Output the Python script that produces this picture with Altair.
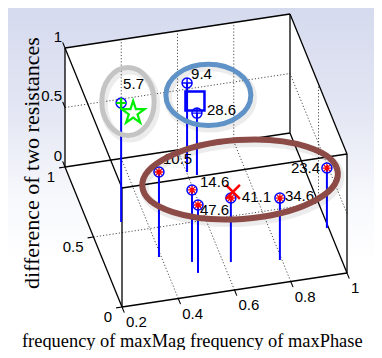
import math
import altair as alt
import pandas as pd

# ---------------- data ----------------
point_labels = ["5.7", "9.4", "28.6", "10.5", "14.6", "47.6", "41.1", "34.6", "23.4"]
freq_maxmag = [0.313, 0.602, 0.631, 0.392, 0.496, 0.501, 0.626, 0.793, 0.994]
freq_maxphase = [0.573, 0.842, 0.812, 0.299, 0.232, 0.152, 0.192, 0.156, 0.323]
resist_diff = [1.0, 0.748, 0.52, 0.714, 0.605, 0.571, 0.538, 0.52, 0.504]
cluster = [1, 2, 2, 3, 3, 3, 3, 3, 3]

# cluster centres (star, square, cross)
centre_mag = [0.356, 0.623, 0.635]
centre_phase = [0.574, 0.807, 0.2007]
centre_diff = [0.9, 0.63, 0.575]

# annotation ellipses around the clusters (centres in data units)
ring_mag = [0.338, 0.665, 0.672]
ring_phase = [0.576, 0.779, 0.2575]
ring_diff = [1.0, 0.7, 0.6]

x_ticks = [0.2, 0.4, 0.6, 0.8, 1.0]
x_tick_text = ["0.2", "0.4", "0.6", "0.8", "1"]
y_ticks = [0.0, 0.5, 1.0]
y_tick_text = ["0", "0.5", "1"]
z_ticks = [0.0, 0.5, 1.0]
z_tick_text = ["0", "0.5", "1"]
x_grid = [0.4, 0.6, 0.8]
y_grid = [0.5]
z_grid = [0.5]

x_title = "frequency of maxMag frequency of maxPhase"
z_title = "difference of two resistances"

# ---------------- layout / projection ----------------
W, H = 366, 342
ORIGIN = (122.0, 307.0)
X_VEC = (281.25, -42.5)
Y_VEC = (-57.0, -140.0)
Z_VEC = (0.0, -119.0)
X0, X1 = 0.2, 1.0


def proj(x, y, z):
    return (ORIGIN[0] + X_VEC[0] * (x - X0) + Y_VEC[0] * y + Z_VEC[0] * z,
            ORIGIN[1] + X_VEC[1] * (x - X0) + Y_VEC[1] * y + Z_VEC[1] * z)


def seg(p, q):
    a, b = proj(*p), proj(*q)
    return {"x": a[0], "y": a[1], "x2": b[0], "y2": b[1]}


xs = alt.Scale(domain=[8, 8 + W], nice=False, zero=False)
ys = alt.Scale(domain=[8, 8 + H], reverse=True, nice=False, zero=False)
X = alt.X("x:Q", scale=xs, axis=None)
Y = alt.Y("y:Q", scale=ys, axis=None)

# background gradient
bg = alt.Chart(pd.DataFrame({"a": [0]})).mark_rect(
    color=alt.LinearGradient(
        gradient="linear",
        stops=[alt.GradientStop(offset=0, color="#d5daee"),
               alt.GradientStop(offset=0.3, color="#e3e6f3"),
               alt.GradientStop(offset=0.55, color="#f7f8fc"),
               alt.GradientStop(offset=0.75, color="#ffffff"),
               alt.GradientStop(offset=1, color="#ffffff")],
        x1=0, x2=0, y1=0, y2=1)
).encode(x=alt.value(0), x2=alt.value(W), y=alt.value(0), y2=alt.value(H))

# white hull of the box
corners = [proj(a, b, c) for a in (X0, X1) for b in (0, 1) for c in (0, 1)]


def hull(points):
    pts = sorted(set(points))
    def cross(o, a, b):
        return (a[0]-o[0])*(b[1]-o[1]) - (a[1]-o[1])*(b[0]-o[0])
    lower, upper = [], []
    for p in pts:
        while len(lower) >= 2 and cross(lower[-2], lower[-1], p) <= 0:
            lower.pop()
        lower.append(p)
    for p in reversed(pts):
        while len(upper) >= 2 and cross(upper[-2], upper[-1], p) <= 0:
            upper.pop()
        upper.append(p)
    return lower[:-1] + upper[:-1]


poly = hull(corners)
rows = []
for vx in sorted(set(round(p[0], 3) for p in poly)):
    yv = []
    n = len(poly)
    for i in range(n):
        p, q = poly[i], poly[(i + 1) % n]
        lo, hi = min(p[0], q[0]), max(p[0], q[0])
        if lo - 1e-6 <= vx <= hi + 1e-6:
            if abs(q[0] - p[0]) < 1e-9:
                yv += [p[1], q[1]]
            else:
                t = (vx - p[0]) / (q[0] - p[0])
                yv.append(p[1] + t * (q[1] - p[1]))
    rows.append({"x": vx, "top": min(yv), "bot": max(yv)})
hull_chart = alt.Chart(pd.DataFrame(rows)).mark_area(
    color="white", orient="vertical", interpolate="linear"
).encode(x=X, y=alt.Y("top:Q", scale=ys, axis=None), y2="bot:Q")

# grid lines
grid_rows = []
for g in x_grid:
    grid_rows.append(seg((g, 0, 0), (g, 1, 0)))
    grid_rows.append(seg((g, 1, 0), (g, 1, 1)))
for g in y_grid:
    grid_rows.append(seg((X0, g, 0), (X1, g, 0)))
    grid_rows.append(seg((X1, g, 0), (X1, g, 1)))
for g in z_grid:
    grid_rows.append(seg((X0, 1, g), (X1, 1, g)))
    grid_rows.append(seg((X1, 0, g), (X1, 1, g)))
grid = alt.Chart(pd.DataFrame(grid_rows)).mark_rule(
    color="#222", strokeWidth=0.8, strokeDash=[1.2, 2]
).encode(x=X, y=Y, x2="x2:Q", y2="y2:Q")

# box edges
cube = [(a, b, c) for a in (X0, X1) for b in (0, 1) for c in (0, 1)]
edge_rows = []
for i in range(len(cube)):
    for j in range(i + 1, len(cube)):
        diff = sum(1 for k in range(3) if cube[i][k] != cube[j][k])
        if diff == 1:
            edge_rows.append(seg(cube[i], cube[j]))
edges = alt.Chart(pd.DataFrame(edge_rows)).mark_rule(
    color="black", strokeWidth=1.3
).encode(x=X, y=Y, x2="x2:Q", y2="y2:Q")

# ticks
tick_rows = []
for t in x_ticks:
    px, py = proj(t, 0, 0)
    tick_rows.append({"x": px, "y": py, "x2": px + 2.3, "y2": py + 5.6})
for t in y_ticks:
    px, py = proj(X0, t, 0)
    tick_rows.append({"x": px, "y": py, "x2": px - 5.9, "y2": py + 0.9})
for t in z_ticks:
    px, py = proj(X0, 1, t)
    tick_rows.append({"x": px, "y": py, "x2": px - 2.3, "y2": py - 5.6})
ticks = alt.Chart(pd.DataFrame(tick_rows)).mark_rule(
    color="black", strokeWidth=1.1
).encode(x=X, y=Y, x2="x2:Q", y2="y2:Q")

# tick labels
lab_rows = []
for t, s in zip(x_ticks, x_tick_text):
    px, py = proj(t, 0, 0)
    lab_rows.append({"x": px + 4, "y": py + 15, "t": s})
ylab_rows = []
for t, s in zip(y_ticks, y_tick_text):
    px, py = proj(X0, t, 0)
    ylab_rows.append({"x": px - 10, "y": py + 10, "t": s})
for t, s in zip(z_ticks, z_tick_text):
    px, py = proj(X0, 1, t)
    ylab_rows.append({"x": px - 3, "y": py - 11.5, "t": s})
xlabels = alt.Chart(pd.DataFrame(lab_rows)).mark_text(
    align="left", baseline="middle", font="Liberation Sans", fontSize=15, color="black"
).encode(x=X, y=Y, text="t:N")
rlabels = alt.Chart(pd.DataFrame(ylab_rows)).mark_text(
    align="right", baseline="middle", font="Liberation Sans", fontSize=15, color="black"
).encode(x=X, y=Y, text="t:N")

# stems and markers
pts = pd.DataFrame({"mag": freq_maxmag, "phase": freq_maxphase, "diff": resist_diff,
                    "lab": point_labels, "cl": cluster})
stem_rows, mk_rows = [], []
label_dx = [2, 4, 10, 4, 8, 2, 11, 5, -36]
label_dy = [-18.5, -9, -3, -13, -8, 5, -1, -2, 0]
for i, r in pts.iterrows():
    stem_rows.append(seg((r["mag"], r["phase"], 0), (r["mag"], r["phase"], r["diff"])))
    px, py = proj(r["mag"], r["phase"], r["diff"])
    mk_rows.append({"x": px, "y": py, "cl": r["cl"], "lab": r["lab"],
                    "lx": px + label_dx[i], "ly": py + label_dy[i]})
mk = pd.DataFrame(mk_rows)
stems = alt.Chart(pd.DataFrame(stem_rows)).mark_rule(
    color="#0000ff", strokeWidth=2
).encode(x=X, y=Y, x2="x2:Q", y2="y2:Q")
circles = alt.Chart(mk).mark_point(
    shape="circle", size=100, filled=False, color="#0000ff", strokeWidth=1.5, opacity=1
).encode(x=X, y=Y)
PLUS = "M-1,0L1,0M0,-1L0,1"
STAR6 = "M-1,0L1,0M0,-1L0,1M-0.7,-0.7L0.7,0.7M-0.7,0.7L0.7,-0.7"
inner1 = alt.Chart(mk[mk.cl == 1]).mark_point(
    shape=PLUS, size=100, filled=False, color="#00dd00", strokeWidth=2.2, opacity=1
).encode(x=X, y=Y)
inner2 = alt.Chart(mk[mk.cl == 2]).mark_point(
    shape=PLUS, size=100, filled=False, color="#0000ff", strokeWidth=1.4, opacity=1
).encode(x=X, y=Y)
inner3 = alt.Chart(mk[mk.cl == 3]).mark_point(
    shape=STAR6, size=64, filled=False, color="#ff0000", strokeWidth=1.3, opacity=1
).encode(x=X, y=Y)
plabels = alt.Chart(mk).mark_text(
    align="left", baseline="middle", font="Liberation Sans", fontSize=15, color="black"
).encode(x=alt.X("lx:Q", scale=xs, axis=None), y=alt.Y("ly:Q", scale=ys, axis=None), text="lab:N")

# cluster centres
cen = []
for a, b, c in zip(centre_mag, centre_phase, centre_diff):
    px, py = proj(a, b, c)
    cen.append({"x": px, "y": py})
star_pts = []
for k in range(10):
    ang = -math.pi / 2 + k * math.pi / 5
    rr = 1.0 if k % 2 == 0 else 0.382
    star_pts.append(f"{rr*math.cos(ang):.3f},{rr*math.sin(ang):.3f}")
STAR = "M" + " L".join(star_pts) + " Z"
star = alt.Chart(pd.DataFrame([cen[0]])).mark_point(
    shape=STAR, size=576, filled=False, color="#00ee00", strokeWidth=2.2, opacity=1
).encode(x=X, y=Y)
square = alt.Chart(pd.DataFrame([cen[1]])).mark_point(
    shape="square", size=361, filled=False, color="#0000ff", strokeWidth=2.5, opacity=1
).encode(x=X, y=Y)
xmark = alt.Chart(pd.DataFrame([cen[2]])).mark_point(
    shape="M-1,-1L1,1M-1,1L1,-1", size=196, filled=False, color="#ff0000", strokeWidth=2.5, opacity=1
).encode(x=X, y=Y)

# titles
titles_b = alt.Chart(pd.DataFrame({"x": [22], "y": [346.5], "t": [x_title]})).mark_text(
    align="left", baseline="alphabetic", font="Liberation Serif", fontSize=18.4, color="black"
).encode(x=X, y=Y, text="t:N")
titles_l = alt.Chart(pd.DataFrame({"x": [38.5], "y": [289], "t": [z_title]})).mark_text(
    align="left", baseline="alphabetic", angle=270, font="Liberation Serif", fontSize=22, color="black"
).encode(x=X, y=Y, text="t:N")


# annotation ellipses
def ellipse_path(ratio):
    k = 0.5523
    r = ratio
    return (f"M1,0 C1,{k*r:.4f} {k},{r:.4f} 0,{r:.4f} C{-k},{r:.4f} -1,{k*r:.4f} -1,0 "
            f"C-1,{-k*r:.4f} {-k},{-r:.4f} 0,{-r:.4f} C{k},{-r:.4f} 1,{-k*r:.4f} 1,0 Z")


ring_style = [  # rx, ry, colour, width, angle
    (26.2, 34.0, "#c4c4c4", 5, 0),
    (42.5, 30.7, "#5f92c6", 5, 0),
    (98.0, 39.5, "#8c4b46", 6, 356),
]
ring_layers = []
for (a, b, c), (rx, ry, col, sw, ang) in zip(zip(ring_mag, ring_phase, ring_diff), ring_style):
    px, py = proj(a, b, c)
    d = pd.DataFrame([{"x": px, "y": py}])
    shp = ellipse_path(ry / rx)
    sz = (2 * rx) ** 2
    ring_layers.append(alt.Chart(d).mark_point(
        shape=shp, size=sz, filled=False, color="#000000", strokeWidth=sw + 3,
        opacity=0.07, angle=ang, xOffset=2, yOffset=3
    ).encode(x=X, y=Y))
    ring_layers.append(alt.Chart(d).mark_point(
        shape=shp, size=sz, filled=False, color=col, strokeWidth=sw, opacity=1, angle=ang
    ).encode(x=X, y=Y))

chart = alt.layer(
    bg, hull_chart, grid, edges, ticks, stems, circles, inner1, inner2, inner3,
    star, square, xmark, plabels, xlabels, rlabels, titles_b, titles_l, *ring_layers
).properties(
    width=W, height=H, padding=0, autosize=alt.AutoSizeParams(type="none"),
    background="white"
).configure_view(stroke=None)

chart.save("out.html", embed_options={"renderer": "svg", "actions": False})
